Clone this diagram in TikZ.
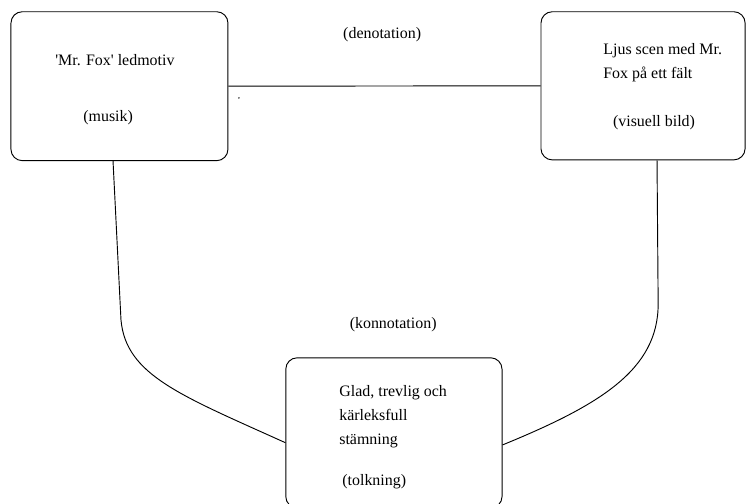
\documentclass[tikz,border=0pt]{standalone}
\usepackage{fontspec}
\setmainfont{Liberation Serif}

\begin{document}
\begin{tikzpicture}[
    box/.style={draw, line width=0.7pt, rounded corners=0.3cm},
    txt/.style={font=\fontsize{12}{18}\selectfont, inner sep=0pt},
    link/.style={line width=0.7pt}
]
    \useasboundingbox (0,0) rectangle (19.76,13.33);

    % Boxes
    \node[box, minimum width=5.74cm, minimum height=3.94cm] (musik) at (3.16,11.05) {};
    \node[box, minimum width=5.40cm, minimum height=3.92cm] (bild) at (17.01,11.06) {};
    \node[box, minimum width=5.72cm, minimum height=3.97cm] (mood) at (10.42,1.88) {};

    % Texts in the boxes
    \node[txt] (ledmotiv) at (3.04,11.75) {\textquotesingle Mr. Fox\textquotesingle\ ledmotiv};
    \node[txt] (musiklbl) at (2.86,10.21) {(musik)};
    \node[txt, align=left] (scen) at (17.53,11.68) {Ljus scen med Mr.\\Fox på ett fält};
    \node[txt] (bildlbl) at (17.30,10.08) {(visuell bild)};
    \node[txt, align=left] (glad) at (10.40,2.30) {Glad, trevlig och\\kärleksfull\\stämning};
    \node[txt] (tolkning) at (9.90,0.58) {(tolkning)};

    % Labels between
    \node[txt] (denot) at (10.11,12.41) {(denotation)};
    \node[txt] (konnot) at (10.40,4.74) {(konnotation)};
    \fill (6.32,10.74) circle (0.6pt);

    % Connectors
    \draw[link] (musik.east) -- (bild.west);
    \draw[link] ([xshift=-0.17cm]musik.south) -- (3.20,4.87)
        .. controls (3.33,3.41) and (4.76,2.88) .. ([yshift=-0.26cm]mood.west);
    \draw[link] ([xshift=0.37cm]bild.south) -- (17.41,5.29)
        .. controls (17.41,3.55) and (15.88,2.62) .. ([yshift=-0.32cm]mood.east);
\end{tikzpicture}
\end{document}
